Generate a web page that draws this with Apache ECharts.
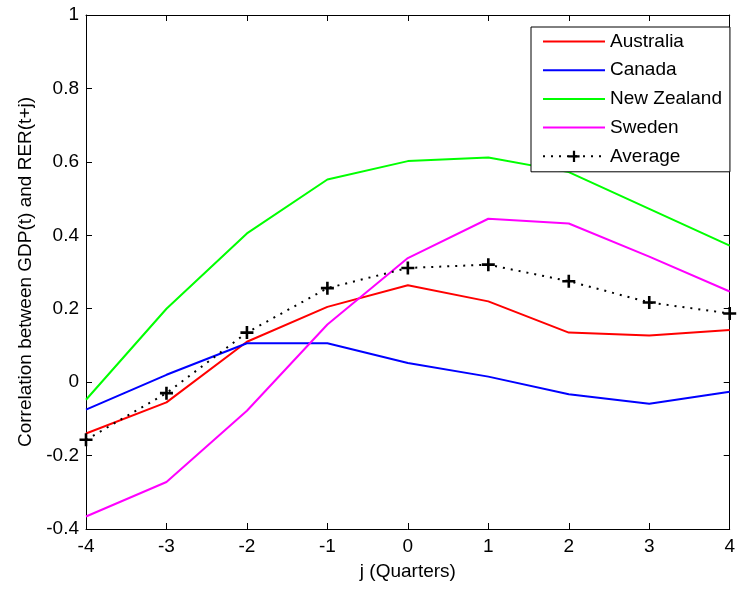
<!DOCTYPE html>
<html>
<head>
<meta charset="utf-8">
<script src="https://cdn.jsdelivr.net/npm/echarts@6/dist/echarts.min.js"></script>
<style>
  html, body { margin: 0; padding: 0; background: #fff; }
  #chart { width: 738px; height: 589px; }
</style>
</head>
<body>
<div id="chart"></div>
<script>
// Lag j in quarters
const quarters = [-4, -3, -2, -1, 0, 1, 2, 3, 4];

// Correlation between GDP(t) and RER(t+j)
const australia  = [-0.140, -0.055, 0.110, 0.205, 0.264, 0.220, 0.135, 0.127, 0.142];
const canada     = [-0.075, 0.020, 0.106, 0.106, 0.052, 0.015, -0.033, -0.059, -0.026];
const newZealand = [-0.048, 0.200, 0.405, 0.552, 0.602, 0.612, 0.572, 0.472, 0.372];
const sweden     = [-0.366, -0.272, -0.078, 0.157, 0.338, 0.445, 0.432, 0.342, 0.247];
const average    = [-0.157, -0.030, 0.135, 0.256, 0.311, 0.320, 0.275, 0.217, 0.187];

const seriesNames = ['Australia', 'Canada', 'New Zealand', 'Sweden', 'Average'];

const pairs = vals => quarters.map((q, i) => [q, vals[i]]);

const FONT = '"Liberation Sans", Arial, sans-serif';
// bold "+" marker
const PLUS = 'path://M-1,-5 H1 V-1 H5 V1 H1 V5 H-1 V1 H-5 V-1 H-1 Z';

const axisCommon = {
  axisLine: { show: true, onZero: false, lineStyle: { color: '#000', width: 1 } },
  axisTick: { show: true, inside: true, length: 6, lineStyle: { color: '#000', width: 1 } },
  splitLine: { show: false }
};

const chart = echarts.init(document.getElementById('chart'), null, { renderer: 'canvas' });

function colouredLine(name, vals, color) {
  return {
    name, type: 'line', data: pairs(vals), xAxisIndex: 0, yAxisIndex: 0,
    symbol: 'none', lineStyle: { color, width: 2 }, itemStyle: { color },
    z: 2
  };
}

// plain line keys for the country series, line + marker for the average
const legendData = seriesNames.map(name => name === 'Average'
  ? { name }
  : { name, itemStyle: { color: 'rgba(0,0,0,0)', borderWidth: 0, opacity: 0 } });

chart.setOption({
  animation: false,
  backgroundColor: '#fff',
  grid: { left: 86, top: 15, right: 1, bottom: 60, containLabel: false },
  textStyle: { fontFamily: FONT },
  legend: {
    data: legendData,
    orient: 'vertical',
    left: 531, top: 27,
    padding: [5, 8, 6, 11],
    itemGap: 9.7,
    itemWidth: 62, itemHeight: 14,
    backgroundColor: '#fff',
    borderColor: '#000', borderWidth: 1,
    textStyle: { fontFamily: FONT, fontSize: 19, color: '#000' }
  },
  xAxis: [
    Object.assign({
      type: 'value', position: 'bottom', min: -4, max: 4, interval: 1,
      name: 'j (Quarters)', nameLocation: 'middle', nameGap: 33,
      nameTextStyle: { fontFamily: FONT, fontSize: 19, color: '#000' },
      axisLabel: { fontFamily: FONT, fontSize: 19, color: '#000', margin: 8 }
    }, axisCommon),
    Object.assign({
      type: 'value', position: 'top', min: -4, max: 4, interval: 1,
      axisLabel: { show: false }
    }, axisCommon)
  ],
  yAxis: [
    Object.assign({
      type: 'value', position: 'left', min: -0.4, max: 1, interval: 0.2,
      name: 'Correlation between GDP(t) and RER(t+j)', nameLocation: 'middle',
      nameRotate: 90, nameGap: 50,
      nameTextStyle: { fontFamily: FONT, fontSize: 19, color: '#000' },
      axisLabel: { fontFamily: FONT, fontSize: 19, color: '#000', margin: 7 }
    }, axisCommon),
    Object.assign({
      type: 'value', position: 'right', min: -0.4, max: 1, interval: 0.2,
      axisLabel: { show: false }
    }, axisCommon)
  ],
  series: [
    colouredLine('Australia', australia, '#ff0000'),
    colouredLine('Canada', canada, '#0000ff'),
    colouredLine('New Zealand', newZealand, '#00ff00'),
    colouredLine('Sweden', sweden, '#ff00ff'),
    {
      name: 'Average', type: 'line', data: pairs(average), xAxisIndex: 0, yAxisIndex: 0,
      symbol: PLUS, symbolSize: 13, showSymbol: true,
      lineStyle: { color: '#000', width: 2, type: [2, 6] },
      itemStyle: { color: '#000' },
      z: 3
    }
  ]
});
</script>
</body>
</html>
